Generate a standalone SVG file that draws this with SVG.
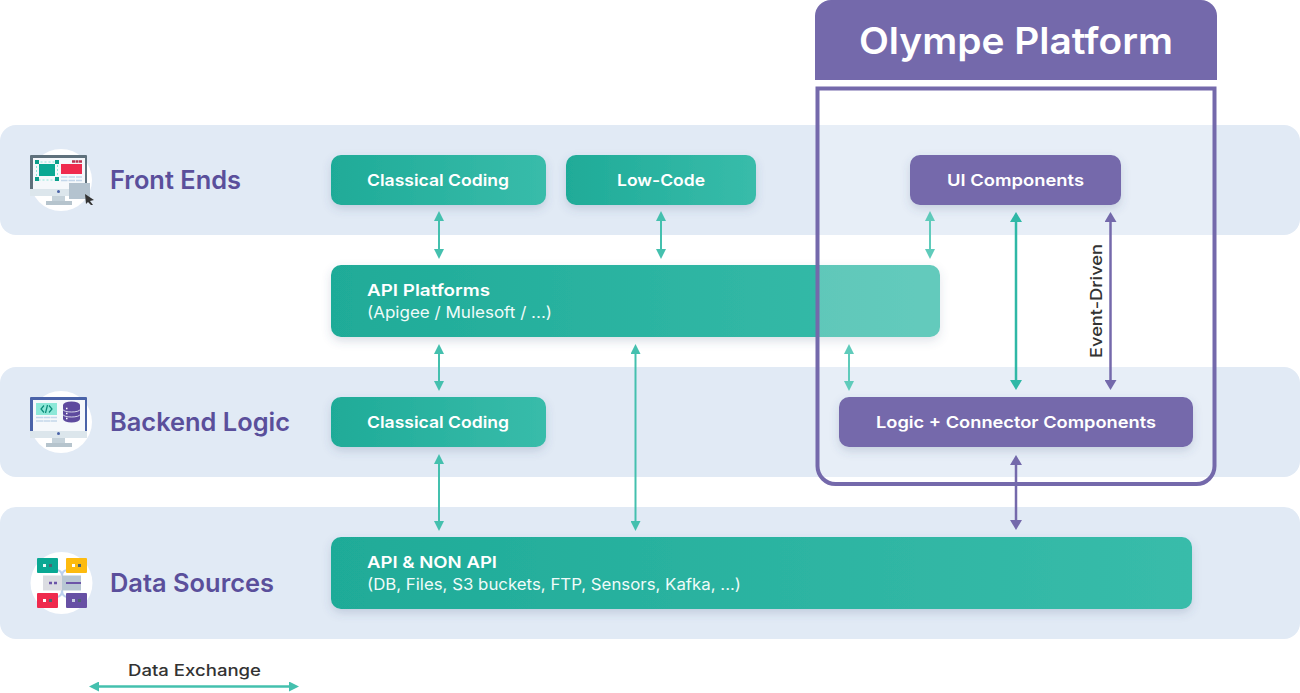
<svg xmlns="http://www.w3.org/2000/svg" width="1300" height="693" viewBox="0 0 1300 693">
<style>
.band{fill:#e1eaf5}
.teal{fill:url(#tg);filter:url(#sh)}
.purple{fill:#7469ab;filter:url(#sh)}
.t{font-family:"Inter","Liberation Sans",sans-serif;font-size:16.5px;font-weight:600;fill:#fff}
.s{font-family:"Inter","Liberation Sans",sans-serif;font-size:16px;font-weight:400;fill:#f0fbf9}
.h{font-family:"Inter","Liberation Sans",sans-serif;font-size:25.500px;font-weight:600;fill:#5a4f9b}
.d{font-family:"Inter","Liberation Sans",sans-serif;font-size:16px;font-weight:500;fill:#333}
.a{fill:none;stroke-width:2}
.at{stroke:#44c0ae;marker-start:url(#ht);marker-end:url(#ht)}
.ap{stroke:#7469ab;stroke-width:2.500;marker-start:url(#hp);marker-end:url(#hp)}
.al{stroke:#5fcbbb;marker-start:url(#hl);marker-end:url(#hl)}
.ab{stroke:#2fb8a6;stroke-width:2.500;marker-start:url(#hb);marker-end:url(#hb)}
</style>
<defs>
<linearGradient id="tg" x1="0" x2="1" y1="0" y2="0"><stop offset="0" stop-color="#1fab98"/><stop offset="1" stop-color="#38bcaa"/></linearGradient>
<filter id="sh" x="-10%" y="-30%" width="120%" height="180%"><feDropShadow dx="0" dy="4" stdDeviation="5" flood-color="#4a5a80" flood-opacity=".2"/></filter>
<marker id="ht" viewBox="0 0 10 10" refX="5" refY="5" markerWidth="10" markerHeight="10" markerUnits="userSpaceOnUse" orient="auto-start-reverse"><path d="M0 0L10 5L0 10Z" fill="#44c0ae"/></marker>
<marker id="hl" viewBox="0 0 10 10" refX="5" refY="5" markerWidth="10" markerHeight="10" markerUnits="userSpaceOnUse" orient="auto-start-reverse"><path d="M0 0L10 5L0 10Z" fill="#5fcbbb"/></marker>
<marker id="hb" viewBox="0 0 10 12" refX="5" refY="6" markerWidth="10" markerHeight="12" markerUnits="userSpaceOnUse" orient="auto-start-reverse"><path d="M0 0L10 6L0 12Z" fill="#2fb8a6"/></marker>
<marker id="hp" viewBox="0 0 10 12" refX="5" refY="6" markerWidth="10" markerHeight="12" markerUnits="userSpaceOnUse" orient="auto-start-reverse"><path d="M0 0L10 6L0 12Z" fill="#7469ab"/></marker>
</defs>
<g id="bands">
<rect class="band" x="0" y="125" width="1300" height="110" rx="16"/>
<rect class="band" x="0" y="367" width="1300" height="110" rx="16"/>
<rect class="band" x="0" y="507" width="1300" height="132" rx="16"/>
</g>
<g id="node-classical-fe"><rect class="teal" x="331" y="155" width="215" height="50" rx="10"/><text class="t" x="367" y="186" textLength="142" lengthAdjust="spacingAndGlyphs">Classical Coding</text></g>
<g id="node-lowcode"><rect class="teal" x="566" y="155" width="190" height="50" rx="10"/><text class="t" x="617" y="186" textLength="88" lengthAdjust="spacingAndGlyphs">Low-Code</text></g>
<g id="node-api-platforms"><rect class="teal" x="331" y="265" width="609" height="72" rx="10"/><text class="t" x="367" y="296" textLength="123" lengthAdjust="spacingAndGlyphs">API Platforms</text><text class="s" x="367" y="318" textLength="185" lengthAdjust="spacingAndGlyphs">(Apigee / Mulesoft / ...)</text></g>
<g id="node-classical-be"><rect class="teal" x="331" y="397" width="215" height="50" rx="10"/><text class="t" x="367" y="428" textLength="142" lengthAdjust="spacingAndGlyphs">Classical Coding</text></g>
<g id="node-api-non-api"><rect class="teal" x="331" y="537" width="861" height="72" rx="10"/><text class="t" x="367" y="568" textLength="130" lengthAdjust="spacingAndGlyphs">API &amp; NON API</text><text class="s" x="367" y="590" textLength="374" lengthAdjust="spacingAndGlyphs">(DB, Files, S3 buckets, FTP, Sensors, Kafka, ...)</text></g>
<g id="overlay"><path d="M817 88H1215V466a18 18 0 0 1-18 18H835a18 18 0 0 1-18-18Z" fill="#fff" fill-opacity=".22"/></g>
<g id="connectors">
<path class="a at" d="M439 216V254"/>
<path class="a at" d="M661 216V254"/>
<path class="a al" d="M930 216V254"/>
<path class="a ab" d="M1016 217V385"/>
<path class="a ap" d="M1110.500 217V385"/>
<path class="a at" d="M439 349V386"/>
<path class="a at" d="M635.500 349V526"/>
<path class="a al" d="M849 349V386"/>
<path class="a at" d="M439 459V526"/>
<path class="a ap" d="M1016 460V525"/>
<path class="a at" d="M94 686.500H294" style="stroke-width:2.500"/>
</g>
<g id="node-olympe"><path d="M815 80V16a16 16 0 0 1 16-16H1201a16 16 0 0 1 16 16V80Z" fill="#7469ab"/><text x="859" y="54" font-family="Inter,'Liberation Sans',sans-serif" font-size="37" font-weight="600" fill="#fff" textLength="314" lengthAdjust="spacingAndGlyphs">Olympe Platform</text>
<path d="M817.500 88.500H1214.500V466a18 18 0 0 1-18 18H835.500a18 18 0 0 1-18-18Z" fill="none" stroke="#7469ab" stroke-width="4"/></g>
<g id="node-ui"><rect class="purple" x="910" y="155" width="211" height="50" rx="10"/><text class="t" x="947" y="186" textLength="137" lengthAdjust="spacingAndGlyphs">UI Components</text></g>
<g id="node-logic"><rect class="purple" x="839" y="397" width="354" height="50" rx="10"/><text class="t" x="876" y="428" textLength="280" lengthAdjust="spacingAndGlyphs">Logic + Connector Components</text></g>
<text class="d" transform="translate(1102 358) rotate(-90)" textLength="114" lengthAdjust="spacingAndGlyphs">Event-Driven</text>
<text class="d" x="128" y="676" textLength="133" lengthAdjust="spacingAndGlyphs">Data Exchange</text>
<g id="node-front-ends">
<circle cx="61" cy="180" r="31" fill="#fff"/>
<rect x="30" y="155" width="57" height="41" rx="1" fill="#5f717c"/>
<rect x="33" y="158" width="52" height="31" fill="#f5f8fb"/>
<path d="M30 189H87V196H30Z" fill="#dce6ec"/>
<rect x="36.500" y="162" width="21" height="18" fill="none" stroke="#8de8d8" stroke-dasharray="2 2"/>
<rect x="39" y="164" width="16" height="12" fill="#0aa893"/>
<rect x="35" y="160" width="4" height="4" fill="#0a9e8a"/><rect x="55" y="160" width="4" height="4" fill="#0a9e8a"/><rect x="35" y="177" width="4" height="4" fill="#0a9e8a"/><rect x="55" y="177" width="4" height="4" fill="#0a9e8a"/>
<rect x="61" y="164" width="21" height="10" fill="#ef2a4d"/>
<path d="M72 161.500H75M75.500 161.500H78.500M79 161.500H82" stroke="#b9324f" stroke-width="2.500"/>
<path d="M61 177H67.500M68.500 177H75M76 177H82M61 180.500H67.500M68.500 180.500H75M76 180.500H82" stroke="#c3d6ea" stroke-width="1.500"/>
<circle cx="58.500" cy="191.500" r="1.500" fill="#4a63a8"/>
<rect x="52" y="196" width="13" height="6" fill="#c5d2da"/>
<rect x="46" y="201" width="26" height="4" fill="#b6c4cd"/>
<rect x="69" y="183" width="21" height="16" fill="#b4c3cf"/>
<path d="M85 194L94 200L90 201L93 205L91 205L88 202L86 204Z" fill="#333"/>
<text class="h" x="110" y="189" textLength="131" lengthAdjust="spacingAndGlyphs">Front Ends</text></g>
<g id="node-backend">
<circle cx="61" cy="422" r="31" fill="#fff"/>
<rect x="30" y="397" width="57" height="41" rx="1" fill="#4a63a8"/>
<rect x="33" y="400" width="52" height="31" fill="#f5f8fb"/>
<path d="M30 431H87V438H30Z" fill="#dce6ec"/>
<rect x="36" y="403" width="21" height="12" fill="#8de8d8"/>
<path d="M44 405.500L41 409L44 412.500M49 405.500L52 409L49 412.500M47.500 405L45.500 413" fill="none" stroke="#0a8a78" stroke-width="1.200"/>
<path d="M36 417.500H43M43.500 417.500H50M50.500 417.500H57M36 421H43M43.500 421H50M50.500 421H57" stroke="#c3d6ea" stroke-width="1.500"/>
<path d="M63 405a8.500 3.500 0 0 1 17 0V419a8.500 3.500 0 0 1-17 0Z" fill="#5e4a9e"/>
<path d="M63 409.500a8.500 2.500 0 0 0 17 0M63 414.500a8.500 2.500 0 0 0 17 0" fill="none" stroke="#f5f8fb" stroke-width=".8"/>
<path d="M66 408.500h1.500M66 413.500h1.500M66 418.500h1.500" stroke="#fff" stroke-width="1.500"/>
<circle cx="58.500" cy="433.500" r="1.500" fill="#4a63a8"/>
<rect x="52" y="438" width="13" height="6" fill="#c5d2da"/>
<rect x="46" y="443" width="26" height="4" fill="#b6c4cd"/>
<text class="h" x="110" y="431" textLength="180" lengthAdjust="spacingAndGlyphs">Backend Logic</text></g>
<g id="node-data-sources">
<circle cx="61.500" cy="583" r="31" fill="#fff"/>
<path d="M56 570Q62 570 62 576M62 590Q62 597 56 597M68 570Q62 570 62 576V590Q62 597 68 597" fill="none" stroke="#bcd0ee" stroke-width="2"/>
<rect x="37" y="558" width="21" height="15" rx="1" fill="#0aa893"/>
<rect x="66" y="558" width="21" height="15" rx="1" fill="#fdbb0f"/>
<rect x="43" y="575.500" width="19" height="15" fill="#dcdde2"/>
<rect x="62" y="575.500" width="19" height="15" fill="#b8c7d3"/>
<path d="M66 583H81" stroke="#6c55a8" stroke-width="2"/>
<rect x="37" y="593" width="21" height="15" rx="1" fill="#ef2a4d"/>
<rect x="66" y="593" width="21" height="15" rx="1" fill="#6750a4"/>
<path d="M43 565.500h3" stroke="#e8fbf7" stroke-width="3"/><path d="M49 565.500h3" stroke="#4d6470" stroke-width="3"/>
<path d="M72 565.500h3" stroke="#fff" stroke-width="3"/><path d="M78 565.500h3" stroke="#4d6470" stroke-width="3"/>
<path d="M49 583h3M54 583h3" stroke="#6c55a8" stroke-width="2.500"/>
<path d="M43 600.500h3" stroke="#fff" stroke-width="3"/><path d="M49 600.500h3" stroke="#4d6470" stroke-width="3"/>
<path d="M72 600.500h3" stroke="#c8cde0" stroke-width="3"/><path d="M78 600.500h3" stroke="#4d6470" stroke-width="3"/>
<text class="h" x="110" y="592" textLength="164" lengthAdjust="spacingAndGlyphs">Data Sources</text></g>
</svg>
